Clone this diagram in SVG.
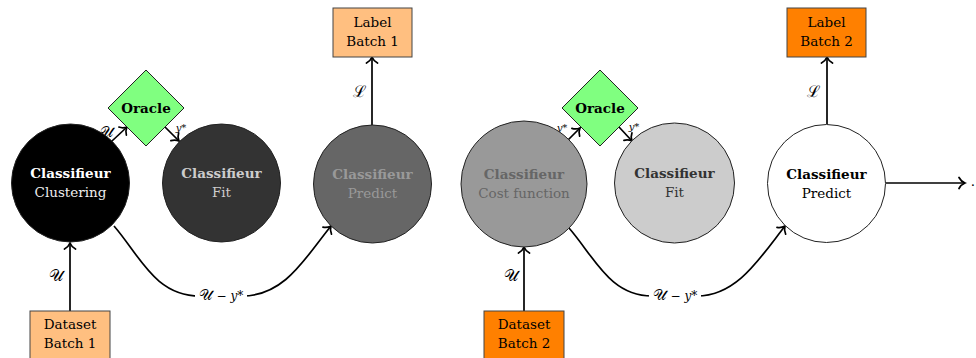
<svg xmlns="http://www.w3.org/2000/svg" width="976" height="358" viewBox="0 0 976 358">
  <defs>
    <marker id="to" viewBox="-8 -7 10 14" refX="0" refY="0" markerWidth="10" markerHeight="14" markerUnits="userSpaceOnUse" orient="auto">
      <path d="M-6,-5.5 C-4.5,-2.5 -1.5,-0.6 0,0 C-1.5,0.6 -4.5,2.5 -6,5.5" fill="none" stroke="#000" stroke-width="1.7" stroke-linecap="round"/>
    </marker>
  </defs>
  <style>
    text { font-family: "DejaVu Serif", "Liberation Serif", serif; font-size: 13.5px; text-anchor: middle; }
    .b { font-weight: bold; }
    .node circle { stroke: #222; stroke-width: 1; }
    .box rect { stroke: #444; stroke-width: 1; }
    .edge { fill: none; stroke: #000; stroke-width: 1.7; marker-end: url(#to); }
    .lbl { font-size: 12px; }
    .sm { font-size: 10px; }
    .scr { font-size: 16px; }
    .scr2 { font-size: 15px; }
    .math { font-style: italic; }
    .oracle polygon { fill: #80ff80; stroke: #222; stroke-width: 1; }
  </style>

  <!-- connectors (drawn first so nodes sit on top) -->
  <g id="connectors">
    <path class="edge" d="M70,311 V243"/>
    <path class="edge" d="M112,141 L127,127"/>
    <path class="edge" d="M165,127 L179,141"/>
    <path class="edge" d="M372,125 V57"/>
    <path class="edge" d="M114,226 C140,256 155,296 200,296 H242 C285,296 305,258 331,226"/>
    <path class="edge" d="M524,311 V247"/>
    <path class="edge" d="M568,140 L580,128"/>
    <path class="edge" d="M619,127 L632,141"/>
    <path class="edge" d="M569,228 C595,258 610,296 652,296 H697 C737,296 760,258 785,226"/>
    <path class="edge" d="M827,124 V57"/>
    <path class="edge" d="M886,183 H965"/>
    <text x="973" y="186">.</text>

    <!-- edge labels -->
    <text class="scr" x="56" y="281">𝒰</text>
    <text class="scr2" x="107" y="137">𝒰</text>
    <text class="sm math" x="181" y="131">y*</text>
    <text class="scr" x="359" y="97">ℒ</text>
    <rect x="195" y="287" width="52" height="18" fill="#fff"/>
    <text class="lbl" x="221" y="300"><tspan class="scr2">𝒰</tspan> − <tspan class="math">y*</tspan></text>
    <text class="scr" x="511" y="281">𝒰</text>
    <text class="sm math" x="562" y="131">y*</text>
    <text class="sm math" x="634" y="130">y*</text>
    <text class="scr" x="813" y="97">ℒ</text>
    <rect x="649" y="287" width="52" height="18" fill="#fff"/>
    <text class="lbl" x="675" y="300"><tspan class="scr2">𝒰</tspan> − <tspan class="math">y*</tspan></text>
  </g>

  <g id="clustering" class="node">
    <circle cx="70.5" cy="183" r="59" fill="#000"/>
    <text class="b" x="70.5" y="178" fill="#fff">Classifieur</text>
    <text x="70.5" y="197" fill="#eee">Clustering</text>
  </g>
  <g id="oracle1" class="oracle">
    <polygon points="146,70 184,108 146,146 108,108"/>
    <text class="b" x="146" y="113">Oracle</text>
  </g>
  <g id="fit1" class="node">
    <circle cx="221.5" cy="183" r="59" fill="#333"/>
    <text class="b" x="221.5" y="178" fill="#ccc">Classifieur</text>
    <text x="221.5" y="197" fill="#ccc">Fit</text>
  </g>
  <g id="predict1" class="node">
    <circle cx="372.5" cy="184" r="59" fill="#666"/>
    <text class="b" x="372.5" y="179" fill="#999">Classifieur</text>
    <text x="372.5" y="198" fill="#999">Predict</text>
  </g>
  <g id="label1" class="box">
    <rect x="333" y="8" width="79" height="49" fill="#ffbf80"/>
    <text x="372.5" y="27">Label</text>
    <text x="372.5" y="46">Batch 1</text>
  </g>
  <g id="dataset1" class="box">
    <rect x="30" y="311" width="80" height="52" fill="#ffbf80"/>
    <text x="70" y="329">Dataset</text>
    <text x="70" y="348">Batch 1</text>
  </g>

  <g id="cost" class="node">
    <circle cx="524" cy="184" r="63" fill="#999"/>
    <text class="b" x="524" y="179" fill="#666">Classifieur</text>
    <text x="524" y="198" fill="#666">Cost function</text>
  </g>
  <g id="oracle2" class="oracle">
    <polygon points="600,70 638,108 600,146 562,108"/>
    <text class="b" x="600" y="113">Oracle</text>
  </g>
  <g id="fit2" class="node">
    <circle cx="674.5" cy="183" r="60" fill="#ccc"/>
    <text class="b" x="674.5" y="178" fill="#333">Classifieur</text>
    <text x="674.5" y="197" fill="#333">Fit</text>
  </g>
  <g id="predict2" class="node">
    <circle cx="826.5" cy="183.5" r="59" fill="#fff"/>
    <text class="b" x="826.5" y="179" fill="#000">Classifieur</text>
    <text x="826.5" y="198" fill="#000">Predict</text>
  </g>
  <g id="label2" class="box">
    <rect x="787" y="8" width="79" height="49" fill="#ff8000"/>
    <text x="826.5" y="27">Label</text>
    <text x="826.5" y="46">Batch 2</text>
  </g>
  <g id="dataset2" class="box">
    <rect x="484" y="311" width="80" height="52" fill="#ff8000"/>
    <text x="524" y="329">Dataset</text>
    <text x="524" y="348">Batch 2</text>
  </g>
</svg>
